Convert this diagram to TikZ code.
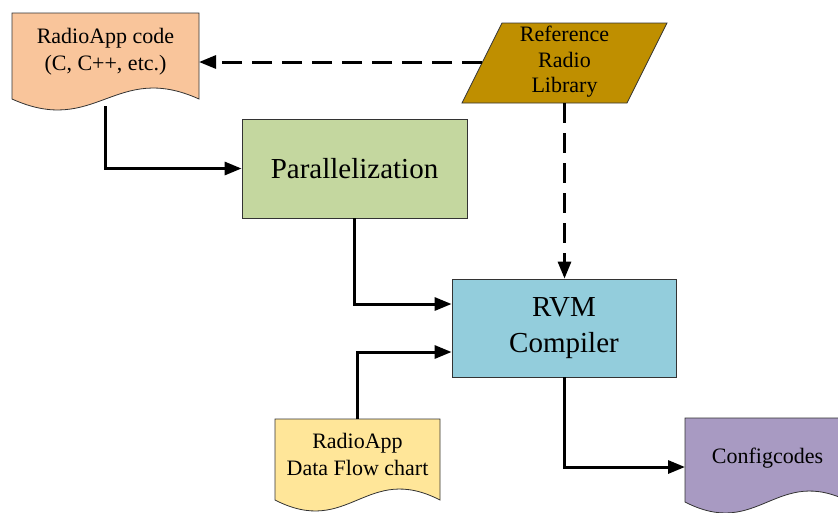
\documentclass[tikz,border=0pt]{standalone}
\usepackage{fontspec}
\setmainfont{Liberation Serif}
\newfontfamily\tnr{Liberation Serif}
\usetikzlibrary{arrows.meta}
\definecolor{peach}{HTML}{F9C59B}
\definecolor{gold}{HTML}{BF8F00}
\definecolor{sage}{HTML}{C4D79F}
\definecolor{skyb}{HTML}{93CDDC}
\definecolor{pyellow}{HTML}{FFE699}
\definecolor{lilac}{HTML}{A89AC2}
\tikzset{
  shapeline/.style={draw=black!80, line width=0.8pt},
  conn/.style={line width=3pt, -{Triangle[length=17pt,width=13pt]}},
  dconn/.style={conn, dash pattern=on 20pt off 10pt},
  smalltxt/.style={font=\tnr\fontsize{22}{27}\selectfont, align=center, inner sep=0pt},
  reftxt/.style={font=\tnr\fontsize{22}{25.5}\selectfont, align=center, inner sep=0pt},
  bigtxt/.style={font=\tnr\fontsize{29}{36}\selectfont, align=center, inner sep=0pt},
  procbox/.style={shapeline, inner sep=0pt},
  ghost/.style={inner sep=0pt, outer sep=0pt}
}
\begin{document}
\begin{tikzpicture}[x=1pt,y=-1pt]
\useasboundingbox (0,0) rectangle (838,512);
\clip (0,0) rectangle (838,512);
% document shape: RadioApp code
\draw[shapeline, fill=peach] (12,13) -- (199,13) -- (199,99)
  .. controls (115,61) and (96,137) .. (12,99) -- cycle;
\node[ghost, minimum width=187pt, minimum height=93pt] (code) at (105.5,59.5) {};
\node[smalltxt] (codetxt) at (105.5,52) {RadioApp code\\(C, C++, etc.)};
% parallelogram: Reference Radio Library
\draw[shapeline, fill=gold] (502,23) -- (667,23) -- (627,103) -- (462,103) -- cycle;
\node[ghost, minimum width=205pt, minimum height=80pt] (lib) at (564.5,63) {};
\node[reftxt] (libtxt) at (564.5,62) {Reference\\Radio\\Library};
\coordinate (libL) at (482,62);
% process boxes
\node[procbox, fill=sage, minimum width=225pt, minimum height=99pt, bigtxt] (par) at (354.5,168.5) {Parallelization};
\node[procbox, fill=skyb, minimum width=224pt, minimum height=98pt, bigtxt] (rvm) at (564,328) {RVM\\Compiler};
% document shape: Data flow chart
\draw[shapeline, fill=pyellow] (275,419) -- (440,419) -- (440,500)
  .. controls (366,462) and (349,538) .. (275,500) -- cycle;
\node[ghost, minimum width=165pt, minimum height=81pt] (flow) at (357.5,459.5) {};
\node[smalltxt] (flowtxt) at (357.5,454) {RadioApp\\Data Flow chart};
% document shape: Configcodes
\draw[shapeline, fill=lilac] (685,418) -- (850,418) -- (850,502)
  .. controls (776,464) and (759,540) .. (685,502) -- cycle;
\node[ghost, minimum width=165pt, minimum height=98pt] (cfg) at (767.5,467) {};
\node[smalltxt] (cfgtxt) at (767.5,458) {Configcodes};
% connectors
\draw[dconn] (libL) -- (code.east |- libL);
\draw[conn] (code.south) |- (par.west);
\draw[conn] (par.south) |- ([yshift=24pt]rvm.west);
\draw[dconn] (lib.south) -- (lib.south |- rvm.north);
\draw[conn] (flow.north) |- ([yshift=-24pt]rvm.west);
\draw[conn] (rvm.south) |- (cfg.west);
\end{tikzpicture}
\end{document}
